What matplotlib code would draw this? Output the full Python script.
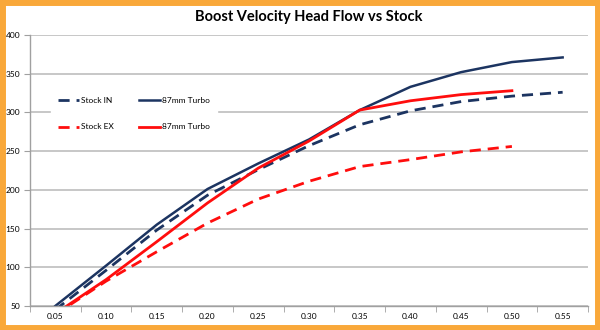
import matplotlib.pyplot as plt
from matplotlib.patches import Rectangle

plt.rcParams["font.family"] = ["Lato", "DejaVu Sans"]

x = [0.05, 0.10, 0.15, 0.20, 0.25, 0.30, 0.35, 0.40, 0.45, 0.50, 0.55]
stock_in = [45, 96, 148, 193, 226, 257, 284, 302, 314, 321, 326]
turbo_in = [50, 102, 155, 201, 234, 265, 303, 333, 352, 365, 371]
x_ex = x[:10]
stock_ex = [39, 82, 120, 157, 188, 211, 230, 239, 249, 256]
turbo_ex = [40, 84, 133, 183, 228, 263, 303, 315, 323, 328]

navy = "#1C3461"
red = "#FF0D0D"

fig = plt.figure(figsize=(6, 3.3), dpi=100)
ax = fig.add_axes([0.05, 0.073, 0.93, 0.821])

dash = (0, (4, 2.5))
ax.plot(x, stock_in, color=navy, lw=2, ls=dash, label="Stock IN")
ax.plot(x_ex, stock_ex, color=red, lw=2, ls=dash, label="Stock EX")
ax.plot(x, turbo_in, color=navy, lw=1.8, label="87mm Turbo")
ax.plot(x_ex, turbo_ex, color=red, lw=2, label="87mm Turbo")

ax.set_xlim(0.025, 0.575)
ax.set_ylim(50, 400)
ax.set_xticks(x)
ax.set_xticklabels([f"{v:.2f}" for v in x])
ax.set_xticks([0.025 + 0.05 * i for i in range(12)], minor=True)
ax.set_yticks(range(50, 401, 50))
ax.tick_params(axis="x", which="major", length=0, labelsize=6, pad=5)
ax.tick_params(axis="x", which="minor", length=4, color="#A0A0A0", direction="out")
ax.tick_params(axis="y", length=4, color="#A0A0A0", labelsize=6, pad=3)

ax.grid(axis="y", color="#BEBEBE", lw=1.2)
ax.set_axisbelow(True)
for s in ["top", "right"]:
    ax.spines[s].set_visible(False)
for s in ["left", "bottom"]:
    ax.spines[s].set_color("#A0A0A0")
    ax.spines[s].set_linewidth(1)

ax.set_title("Boost Velocity Head Flow vs Stock", fontsize=10.5, fontweight="bold", pad=10)

leg = ax.legend(ncol=2, loc="upper left", bbox_to_anchor=(0.03, 0.81),
                fontsize=6, frameon=True, facecolor="white", edgecolor="white",
                framealpha=1, handlelength=2.6, handletextpad=0.2,
                labelspacing=2.3, columnspacing=3, borderpad=0.8)

fig.patches.append(Rectangle((0.004, 0.006), 0.992, 0.988, transform=fig.transFigure,
                             fill=False, edgecolor="#F9A83A", lw=5))

fig.savefig("out.png", dpi=100)
